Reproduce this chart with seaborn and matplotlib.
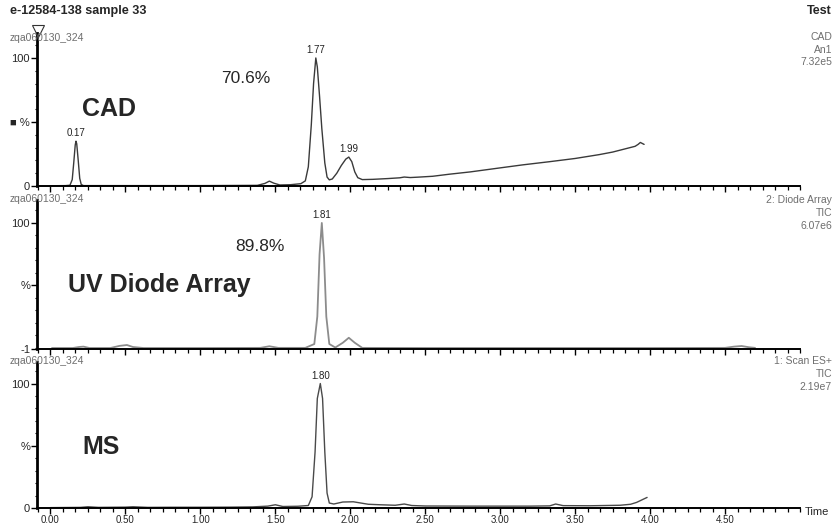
import numpy as np
import pandas as pd
import matplotlib
matplotlib.use("Agg")
import matplotlib.pyplot as plt
from matplotlib.lines import Line2D
from matplotlib.ticker import MultipleLocator, FixedLocator
import seaborn as sns

# ---- chromatogram traces (retention time in min, relative intensity in %) ----
cad_time = [0.00, 0.10, 0.13, 0.145, 0.155, 0.165, 0.17, 0.175, 0.185, 0.195, 0.205, 0.22,
            0.50, 1.00, 1.38, 1.43, 1.46, 1.49, 1.53, 1.60, 1.67, 1.70, 1.72, 1.74, 1.755,
            1.77, 1.78, 1.795, 1.81, 1.83, 1.845, 1.86, 1.88, 1.91, 1.94, 1.97, 1.99, 2.01,
            2.03, 2.05, 2.08, 2.15, 2.25, 2.33, 2.36, 2.40, 2.45, 2.55, 2.66, 2.80, 2.99,
            3.15, 3.33, 3.50, 3.66, 3.75, 3.85, 3.90, 3.92, 3.935, 3.96]
cad_pct = [0.2, 0.3, 0.6, 5, 18, 32, 35, 33, 20, 6, 1.2, 0.3,
           0.3, 0.3, 0.5, 2.0, 3.8, 2.2, 0.8, 1.0, 1.8, 4, 15, 48, 80,
           100, 93, 70, 45, 18, 7, 4.8, 5.5, 10, 16, 21, 22.6, 19,
           11, 6.5, 5.0, 5.2, 5.8, 6.4, 7.0, 6.6, 6.9, 7.6, 9.2, 11, 14,
           16.5, 19, 21.5, 24.5, 26.5, 29.5, 31, 32.5, 34, 32.5]

uv_time = [0.01, 0.15, 0.19, 0.22, 0.26, 0.40, 0.46, 0.51, 0.55, 0.62, 1.00, 1.40,
           1.46, 1.52, 1.70, 1.76, 1.78, 1.795, 1.81, 1.825, 1.84, 1.86, 1.90, 1.95,
           1.99, 2.03, 2.08, 2.50, 3.00, 3.50, 4.00, 4.50, 4.56, 4.61, 4.66, 4.70]
uv_pct = [-0.2, -0.2, 0.6, 0.9, -0.2, -0.2, 1.5, 2.2, 0.6, -0.2, -0.2, -0.1,
          1.2, -0.1, -0.1, 3, 25, 75, 100, 72, 25, 3, 0.2, 4,
          8, 4, -0.1, -0.2, -0.2, -0.2, -0.2, -0.1, 0.9, 1.4, 0.4, -0.1]

ms_time = [0.00, 0.20, 0.25, 0.32, 0.50, 0.55, 0.65, 0.80, 1.00, 1.20, 1.35, 1.45,
           1.50, 1.55, 1.65, 1.72, 1.745, 1.765, 1.78, 1.80, 1.815, 1.83, 1.845, 1.86,
           1.89, 1.95, 2.02, 2.07, 2.12, 2.20, 2.30, 2.36, 2.41, 2.50, 2.80, 3.00, 3.20,
           3.33, 3.37, 3.42, 3.60, 3.80, 3.87, 3.91, 3.95, 3.98]
ms_pct = [0.3, 0.5, 1.0, 0.5, 0.7, 1.0, 0.5, 0.6, 0.6, 0.7, 0.9, 1.5,
          2.6, 1.2, 1.4, 2.0, 9, 45, 88, 100, 88, 45, 12, 4,
          3.2, 4.8, 5.0, 4.0, 3.0, 2.6, 2.2, 3.2, 2.0, 1.6, 1.5, 1.5, 1.5,
          1.7, 3.2, 1.9, 1.8, 2.2, 3.0, 4.5, 6.8, 8.5]

# labelled peaks: (apex time, apex %)
cad_peaks = [(0.17, 35), (1.77, 100), (1.99, 22.6)]
uv_peaks = [(1.81, 100)]
ms_peaks = [(1.80, 100)]

# area percent of the main peak
cad_area = "70.6%"
uv_area = "89.8%"

x_tick_values = [0.0, 0.5, 1.0, 1.5, 2.0, 2.5, 3.0, 3.5, 4.0, 4.5]
x_tick_labels = ["0.00", "0.50", "1.00", "1.50", "2.00", "2.50", "3.00", "3.50", "4.00", "4.50"]

sns.set_theme(style="ticks")
plt.rcParams["font.family"] = ["Liberation Sans", "DejaVu Sans"]

W, H = 837, 525
fig = plt.figure(figsize=(W / 100, H / 100), dpi=100)

def px_axes(top, bottom, left=37, right=800):
    return fig.add_axes([left / W, 1 - bottom / H, (right - left) / W, (bottom - top) / H])

ax1 = px_axes(33, 186)
ax2 = px_axes(200, 349)
ax3 = px_axes(362, 508)

panels = [
    (ax1, cad_time, cad_pct, cad_peaks, (0, 119.5), 0, "#3a3a3a", 1.0),
    (ax2, uv_time, uv_pct, uv_peaks, (-1, 118.4), -1, "#8c8c8c", 1.3),
    (ax3, ms_time, ms_pct, ms_peaks, (0, 117.3), 0, "#4a4a4a", 1.0),
]

for ax, t, v, peaks, ylim, ybase, col, lw in panels:
    df = pd.DataFrame({"time": t, "pct": v})
    sns.lineplot(data=df, x="time", y="pct", ax=ax, color=col, lw=lw,
                 estimator=None, sort=False)
    ax.set_xlim(-0.09, 5.0)
    ax.set_ylim(*ylim)
    ax.set_xlabel("")
    ax.set_ylabel("")
    for s in ("top", "right"):
        ax.spines[s].set_visible(False)
    ax.spines["left"].set_linewidth(2.0)
    ax.spines["bottom"].set_linewidth(1.4)
    ax.spines["left"].set_color("black")
    ax.spines["bottom"].set_color("black")
    ax.xaxis.set_major_locator(FixedLocator(x_tick_values))
    ax.xaxis.set_minor_locator(MultipleLocator(0.5 / 6))
    ax.tick_params(axis="x", which="major", length=4.5, width=1.0, color="black",
                   direction="out", pad=0.5)
    ax.tick_params(axis="x", which="minor", length=3, width=0.9, color="black",
                   direction="out")
    ylabels = [str(ybase), "%", "100"]
    if ax is ax1:
        ylabels[1] = "\u25a0 %"
    ax.yaxis.set_major_locator(FixedLocator([ybase, 50, 100]))
    ax.set_yticklabels(ylabels)
    ax.yaxis.set_minor_locator(MultipleLocator(10))
    ax.tick_params(axis="y", which="major", length=4, width=1.0, color="black",
                   labelsize=8, pad=1)
    ax.tick_params(axis="y", which="minor", length=1.5, width=0.8, color="black")
    ax.patch.set_alpha(0)
    for pt, pv in peaks:
        ax.annotate(f"{pt:.2f}", xy=(pt, pv), xytext=(0, 2), textcoords="offset points",
                    ha="center", va="bottom", fontsize=7, color="#222222")

for ax in (ax1, ax2):
    ax.set_xticklabels([])
ax3.set_xticklabels(x_tick_labels, fontsize=7)

# panel captions
ax1.text(0.21, 60, "CAD", fontsize=18, fontweight="bold", ha="left", va="center")
ax1.text(1.14, 84, cad_area, fontsize=12.5, ha="left", va="center")
ax2.text(0.12, 50, "UV Diode Array", fontsize=18, fontweight="bold", ha="left", va="center")
ax2.text(1.23, 81, uv_area, fontsize=12.5, ha="left", va="center")
ax3.text(0.21, 49, "MS", fontsize=18, fontweight="bold", ha="left", va="center")

def ftext(x, y, s, **kw):
    fig.text(x / W, 1 - y / H, s, **kw)

gray = "#6e6e6e"
ftext(10, 11, "e-12584-138 sample 33", fontsize=9.1, fontweight="bold", va="center")
ftext(832, 11, "Test", fontsize=9, fontweight="bold", va="center", ha="right")
for y in (38, 199, 361):
    ftext(10, y, "zqa060130_324", fontsize=7.5, color=gray, va="center")
for y, s in [(37, "CAD"), (50, "An1"), (62, "7.32e5"),
             (200, "2: Diode Array"), (213, "TIC"), (226, "6.07e6"),
             (361, "1: Scan ES+"), (374, "TIC"), (387, "2.19e7")]:
    ftext(832, y, s, fontsize=7.5, color=gray, va="center", ha="right")
ftext(805, 512, "Time", fontsize=8, va="center", ha="left")

# run marker at the top of the first axis
fig.add_artist(Line2D([38 / W], [1 - 31 / H], marker="v", markersize=9,
                      markerfacecolor="none", markeredgecolor="#333333",
                      markeredgewidth=0.8, transform=fig.transFigure))

fig.savefig("out.png", dpi=100, facecolor="white")
